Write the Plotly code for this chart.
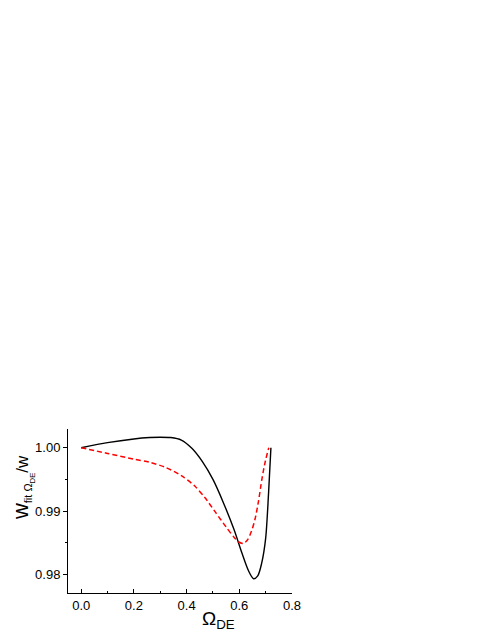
import plotly.graph_objects as go

# Data
black_x = [0.0, 0.10, 0.20, 0.26, 0.30, 0.34, 0.38, 0.42, 0.46, 0.50, 0.54, 0.58, 0.61, 0.635, 0.654, 0.67, 0.685, 0.70, 0.711, 0.72]
black_y = [1.0000, 1.0008, 1.00138, 1.0016, 1.00166, 1.0016, 1.0012, 0.9999, 0.9978, 0.9950, 0.9913, 0.9871, 0.9834, 0.9806, 0.97935, 0.9798, 0.9818, 0.9857, 0.9928, 1.0000]

red_x = [0.0, 0.10, 0.20, 0.26, 0.32, 0.38, 0.43, 0.47, 0.51, 0.55, 0.58, 0.60, 0.615, 0.63, 0.645, 0.66, 0.673, 0.686, 0.699, 0.712]
red_y = [1.0000, 0.9991, 0.9982, 0.9977, 0.9969, 0.9956, 0.9940, 0.9921, 0.9898, 0.9875, 0.9859, 0.9851, 0.9849, 0.9854, 0.9867, 0.9888, 0.9916, 0.9951, 0.9979, 1.0000]

FONT = "Arial, Liberation Sans, sans-serif"

fig = go.Figure()
fig.add_trace(go.Scatter(x=black_x, y=black_y, mode="lines",
                         line=dict(color="black", width=1.4, shape="spline", smoothing=0.8),
                         showlegend=False))
fig.add_trace(go.Scatter(x=red_x, y=red_y, mode="lines",
                         line=dict(color="red", width=1.5, dash="5px,3px", shape="spline", smoothing=0.8),
                         showlegend=False))

fig.update_layout(
    width=483, height=627,
    margin=dict(l=60, r=199, t=421, b=42),
    paper_bgcolor="white", plot_bgcolor="white",
    font=dict(family=FONT, size=13, color="black"),
    xaxis=dict(range=[-0.05, 0.8], tickvals=[0.0, 0.2, 0.4, 0.6, 0.8], tickformat=".1f",
               showline=True, linecolor="black", linewidth=1, ticks="inside", ticklen=4,
               tickcolor="black", showgrid=False, zeroline=False,
               minor=dict(dtick=0.1, tick0=0, ticks="inside", ticklen=2, tickcolor="black", showgrid=False),
               tickfont=dict(size=13)),
    yaxis=dict(range=[0.9771, 1.00295], tickvals=[0.98, 0.99, 1.00], tickformat=".2f",
               showline=True, linecolor="black", linewidth=1, ticks="outside", ticklen=4,
               tickcolor="black", showgrid=False, zeroline=False,
               minor=dict(dtick=0.005, tick0=0.98, ticks="outside", ticklen=2, tickcolor="black", showgrid=False),
               tickfont=dict(size=13)),
    annotations=[
        dict(text="Ω<sub>DE</sub>", xref="paper", yref="paper", x=0.674, y=-0.25,
             xanchor="center", yanchor="bottom", showarrow=False,
             font=dict(family=FONT, size=19, color="black")),
        dict(text="<span style='font-size:22px'>w</span><sub><span style='font-size:11px'>fit Ω<sub>DE</sub></span></sub><span style='font-size:17px'>/w</span>",
             xref="paper", yref="paper", x=-0.205, y=0.64,
             xanchor="center", yanchor="middle", showarrow=False, textangle=-90,
             font=dict(family=FONT, size=20, color="black")),
    ],
)

fig.write_html("out.html")
